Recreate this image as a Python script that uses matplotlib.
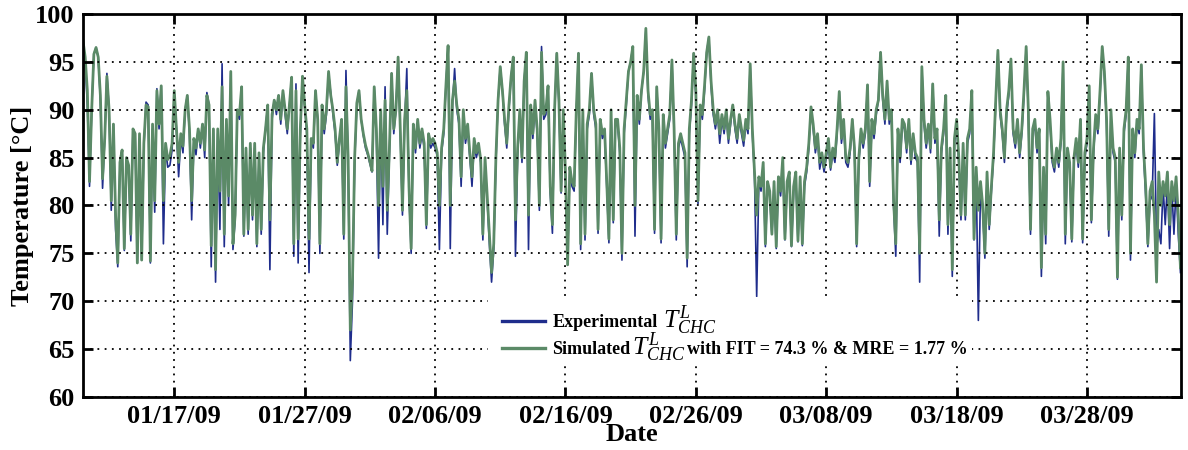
import numpy as np
import pandas as pd
import matplotlib
matplotlib.use("Agg")
import matplotlib.pyplot as plt
from matplotlib.lines import Line2D
from matplotlib.patches import Rectangle

# ---------------- data (one row per day, 4-hourly) ----------------
start_date = "2009-01-10 00:00"
sample_hours = 4
x_end = "2009-04-04 05:00"

experimental = [
    97.2, 95.0, 90.5, 82.0, 90.0, 95.8,
    96.5, 95.5, 91.0, 81.8, 87.0, 93.8,
    90.0, 79.5, 88.5, 77.5, 73.6, 84.2,
    85.8, 75.3, 84.5, 83.8, 76.3, 88.0,
    87.2, 74.0, 87.0, 74.3, 86.0, 90.8,
    90.5, 74.0, 88.0, 79.3, 92.2, 88.0,
    92.5, 76.0, 86.0, 84.0, 84.2, 85.8,
    91.8, 88.0, 83.0, 87.0, 85.5, 90.0,
    91.5, 87.5, 78.5, 86.5, 85.3, 88.0,
    86.0, 88.5, 85.0, 91.8, 90.5, 73.6,
    88.0, 72.0, 87.5, 77.5, 94.8, 75.7,
    88.5, 80.0, 93.8, 75.4, 78.5, 89.5,
    89.0, 92.4, 76.8, 85.5, 77.0, 86.0,
    78.5, 86.0, 75.7, 85.0, 77.0, 85.5,
    88.0, 90.5, 73.3, 89.0, 91.0, 89.5,
    91.5, 88.5, 92.0, 89.5, 87.5, 90.5,
    93.4, 74.7, 92.7, 74.0, 87.5, 93.5,
    90.5, 87.5, 73.0, 86.5, 86.0, 92.0,
    89.0, 75.0, 90.0, 87.5, 89.5, 93.8,
    91.7, 89.5, 87.5, 84.2, 86.5, 88.5,
    76.5, 94.1, 84.5, 63.8, 70.0, 84.5,
    90.5, 92.0, 89.0, 87.3, 86.0, 85.3,
    84.4, 83.5, 92.4, 87.5, 74.5, 89.5,
    78.0, 92.4, 77.0, 85.5, 93.8, 87.5,
    90.0, 95.5, 87.5, 79.0, 88.5, 94.3,
    81.5, 75.0, 88.0, 85.5, 88.5, 86.0,
    87.5, 86.0, 77.6, 87.0, 86.0, 86.5,
    86.0, 85.2, 75.4, 85.5, 87.5, 92.5,
    96.7, 75.5, 90.5, 94.3, 90.0, 88.5,
    82.0, 89.5, 86.5, 88.0, 85.0, 82.0,
    86.5, 85.0, 86.0, 84.5, 76.4, 84.5,
    80.5, 76.0, 72.0, 75.4, 84.5, 91.0,
    94.5, 92.0, 88.5, 86.0, 90.0, 93.5,
    95.5, 74.7, 85.4, 89.5, 84.5, 93.0,
    96.0, 75.4, 90.0, 87.0, 90.5, 87.5,
    79.5, 96.6, 89.0, 89.5, 92.0, 81.3,
    77.1, 89.5, 95.9, 90.5, 81.3, 89.5,
    83.0, 74.5, 83.5, 82.0, 81.5, 89.5,
    95.9, 75.4, 89.5, 76.4, 88.0, 89.5,
    93.8, 89.5, 88.0, 77.1, 88.5, 87.0,
    87.5, 82.0, 76.1, 89.5, 78.2, 88.5,
    88.5, 85.5, 74.3, 87.5, 90.5, 94.0,
    95.0, 96.6, 76.8, 91.0, 88.5, 92.0,
    94.0, 98.3, 91.5, 89.0, 89.5, 77.1,
    92.4, 87.5, 76.1, 89.0, 86.0, 87.5,
    89.0, 95.2, 87.5, 76.4, 86.0, 87.0,
    86.0, 85.0, 73.6, 87.5, 90.5, 95.9,
    91.5, 80.2, 90.0, 89.0, 92.0, 96.0,
    97.6, 92.5, 89.5, 88.0, 89.5, 86.5,
    89.0, 87.5, 89.5, 86.5, 88.5, 90.5,
    88.0, 86.5, 89.0, 87.5, 86.2, 88.5,
    87.5, 94.8, 87.5, 83.0, 70.5, 82.5,
    81.5, 84.0, 75.7, 82.0, 81.0, 77.0,
    82.0, 75.5, 82.5, 81.0, 84.5, 76.4,
    82.0, 83.0, 75.7, 81.5, 83.0, 76.2,
    82.5, 75.8, 82.0, 83.5, 86.0, 90.3,
    88.0, 85.5, 87.0, 83.8, 85.0, 83.5,
    85.0, 86.5, 83.7, 85.5, 84.5, 87.5,
    91.9, 86.5, 88.5, 84.5, 84.0, 85.5,
    89.0, 85.5, 75.7, 84.5, 87.5, 86.0,
    87.5, 92.6, 82.0, 88.5, 87.0, 89.5,
    91.0, 96.0, 91.0, 88.5, 92.5, 88.5,
    89.5, 80.0, 74.7, 87.5, 84.5, 88.5,
    88.0, 85.5, 88.5, 84.3, 87.0, 85.0,
    84.5, 72.0, 94.5, 88.5, 86.0, 88.0,
    85.5, 92.7, 86.5, 87.5, 76.8, 85.5,
    87.5, 91.5, 77.0, 85.5, 72.6, 86.5,
    88.5, 84.5, 78.5, 86.0, 78.5, 86.5,
    87.5, 92.0, 76.4, 83.5, 68.0, 82.0,
    79.5, 74.5, 83.0, 77.5, 81.5, 85.0,
    90.5, 96.2, 89.5, 87.5, 84.5, 89.5,
    91.5, 95.3, 87.5, 86.0, 88.5, 85.0,
    87.5, 91.5, 96.6, 89.5, 77.0, 87.5,
    88.5, 85.5, 87.5, 72.6, 83.5, 76.0,
    91.9, 88.5, 84.5, 83.5, 85.5, 84.0,
    86.5, 95.0, 76.0, 85.5, 84.0, 76.2,
    84.5, 86.5, 84.0, 89.0, 76.1, 85.0,
    86.5, 92.5, 78.2, 85.5, 89.0, 87.5,
    91.5, 96.6, 93.5, 88.5, 76.8, 89.5,
    85.5, 84.5, 72.3, 85.5, 78.5, 87.5,
    89.5, 95.5, 74.3, 87.5, 85.0, 88.5,
    87.5, 94.7, 85.5, 81.0, 75.7, 80.5,
    81.0, 89.6, 75.5, 77.5, 76.0, 82.0,
    78.0, 82.5, 75.5, 82.0, 77.0, 82.0,
    77.0, 73.0,
]

simulated = [
    97.2, 95.5, 92.0, 82.5, 90.0, 95.8,
    96.5, 95.5, 91.5, 82.8, 87.0, 93.5,
    90.0, 80.5, 88.5, 79.0, 74.0, 84.5,
    85.8, 75.5, 85.0, 84.2, 77.0, 88.0,
    87.5, 74.0, 87.5, 74.3, 86.5, 90.5,
    90.3, 74.2, 88.5, 80.5, 92.0, 88.5,
    92.5, 80.5, 86.5, 84.8, 85.2, 86.5,
    92.0, 88.0, 84.5, 87.5, 86.2, 90.0,
    91.5, 88.0, 80.5, 87.0, 86.0, 88.0,
    86.5, 88.5, 85.8, 91.5, 90.5, 75.8,
    88.0, 73.3, 88.0, 81.5, 92.4, 77.0,
    89.0, 81.0, 94.0, 76.0, 79.0, 90.0,
    89.5, 92.4, 77.0, 86.0, 77.5, 86.5,
    79.0, 86.5, 76.0, 85.5, 77.5, 86.0,
    88.0, 90.5, 78.5, 89.5, 91.0, 90.0,
    91.5, 89.0, 92.0, 90.0, 88.0, 90.5,
    93.4, 76.0, 92.0, 76.5, 88.0, 93.5,
    90.5, 88.0, 76.5, 87.0, 86.5, 92.0,
    89.0, 76.0, 90.5, 88.0, 90.0, 94.0,
    91.5, 90.0, 88.0, 84.5, 87.0, 89.0,
    77.0, 92.4, 85.0, 67.0, 72.0, 85.0,
    90.7, 92.0, 89.0, 87.5, 86.3, 85.5,
    84.6, 83.6, 92.4, 88.0, 80.0, 90.0,
    82.0, 91.0, 79.5, 86.0, 93.8, 88.0,
    90.0, 95.5, 88.0, 79.5, 89.0, 92.0,
    82.0, 75.5, 88.5, 86.0, 89.0, 86.5,
    88.0, 86.5, 78.0, 87.5, 86.5, 87.0,
    86.5, 85.5, 80.0, 86.0, 88.0, 92.5,
    96.7, 80.0, 91.0, 93.0, 90.5, 89.0,
    83.0, 90.0, 87.0, 88.5, 85.5, 83.0,
    87.0, 85.5, 86.5, 84.8, 77.0, 85.0,
    81.0, 77.0, 73.0, 76.0, 85.0, 91.0,
    94.5, 92.0, 89.0, 86.5, 90.5, 93.5,
    95.5, 78.5, 86.0, 90.0, 85.0, 93.0,
    96.0, 79.0, 90.5, 87.5, 91.0, 88.0,
    80.0, 96.0, 89.5, 90.0, 92.5, 82.0,
    78.0, 90.0, 95.9, 91.0, 81.5, 90.0,
    83.5, 73.8, 84.0, 82.5, 82.0, 90.0,
    95.9, 76.0, 90.0, 77.0, 88.5, 90.0,
    93.8, 90.0, 88.5, 77.5, 89.0, 87.5,
    88.0, 82.5, 76.5, 90.0, 78.5, 89.0,
    89.0, 86.0, 75.0, 88.0, 91.0, 94.0,
    95.0, 96.6, 80.0, 91.5, 89.0, 92.0,
    94.0, 98.5, 92.0, 89.5, 90.0, 77.5,
    92.4, 88.0, 76.5, 89.5, 86.5, 88.0,
    89.5, 95.2, 88.0, 77.0, 86.5, 87.5,
    86.5, 85.5, 74.5, 88.0, 91.0, 95.9,
    92.0, 80.5, 90.5, 89.5, 92.5, 96.0,
    97.6, 93.0, 90.0, 88.5, 90.0, 87.5,
    89.5, 88.0, 90.0, 87.0, 89.0, 90.5,
    88.5, 87.0, 89.5, 88.0, 86.8, 89.0,
    88.0, 94.8, 88.0, 83.5, 79.0, 83.0,
    82.0, 84.5, 76.0, 82.5, 81.5, 77.0,
    82.5, 75.7, 83.0, 81.5, 85.0, 76.5,
    82.5, 83.5, 75.8, 82.0, 83.5, 76.3,
    83.0, 76.0, 82.5, 84.0, 86.5, 90.3,
    88.5, 86.0, 87.5, 84.5, 85.5, 84.0,
    85.5, 87.0, 84.0, 86.0, 85.0, 88.0,
    91.9, 87.0, 89.0, 85.0, 84.5, 86.0,
    89.0, 86.0, 76.0, 85.0, 88.0, 86.5,
    88.0, 92.6, 82.5, 89.0, 87.5, 90.0,
    91.0, 96.0, 91.5, 89.0, 93.0, 89.0,
    90.0, 80.5, 76.0, 88.0, 85.0, 89.0,
    88.5, 86.0, 89.0, 84.8, 87.5, 85.5,
    85.0, 75.0, 94.5, 89.0, 86.5, 88.5,
    86.0, 92.7, 87.0, 88.0, 78.5, 86.0,
    88.0, 91.5, 78.0, 86.0, 73.3, 87.0,
    89.0, 85.0, 79.0, 86.5, 79.0, 87.0,
    88.0, 92.0, 76.5, 84.0, 79.5, 82.5,
    80.0, 75.0, 83.5, 78.0, 82.0, 85.5,
    91.0, 96.2, 90.0, 88.0, 85.0, 90.0,
    92.0, 95.3, 88.0, 86.5, 89.0, 85.5,
    88.0, 92.0, 96.6, 90.0, 77.5, 88.0,
    89.0, 86.0, 88.0, 73.5, 84.0, 77.0,
    91.9, 89.0, 85.0, 84.0, 86.0, 84.5,
    87.0, 95.0, 77.0, 86.0, 84.5, 76.5,
    85.0, 87.0, 84.5, 89.0, 76.5, 85.5,
    87.0, 92.5, 78.5, 86.0, 89.5, 88.0,
    92.0, 96.6, 94.0, 89.0, 77.5, 90.0,
    86.0, 85.0, 72.5, 86.0, 79.0, 88.0,
    90.0, 95.5, 75.0, 88.0, 85.5, 89.0,
    88.0, 94.7, 86.0, 82.0, 76.0, 81.5,
    82.5, 79.0, 72.0, 83.5, 80.0, 82.5,
    81.0, 83.5, 78.0, 82.5, 80.5, 83.0,
    79.0, 73.5,
]

xtick_labels = ["01/17/09", "01/27/09", "02/06/09", "02/16/09",
                "02/26/09", "03/08/09", "03/18/09", "03/28/09"]
ytick_values = [60, 65, 70, 75, 80, 85, 90, 95, 100]
legend_exp = "Experimental"
legend_sim = "Simulated"
legend_math = r"$T^{L}_{CHC}$"
legend_tail = "with FIT = 74.3 % & MRE = 1.77 %"

# ---------------- style ----------------
plt.rcParams["font.family"] = ["Liberation Serif", "DejaVu Serif"]
plt.rcParams["font.weight"] = "bold"
plt.rcParams["mathtext.fontset"] = "custom"
plt.rcParams["mathtext.it"] = "Liberation Serif:italic:normal"
plt.rcParams["mathtext.rm"] = "Liberation Serif:normal"
plt.rcParams["mathtext.bf"] = "Liberation Serif:bold"

blue = "#1F2D8C"
green = "#5B8A67"

t = pd.Timestamp(start_date) + pd.to_timedelta(np.arange(len(simulated)) * sample_hours, unit="h")

fig = plt.figure(figsize=(11.88, 4.5), dpi=100)
ax = fig.add_axes([83 / 1188, 1 - 397 / 450, (1181 - 83) / 1188, (397 - 14) / 450])

ax.plot(t, experimental, color=blue, lw=1.2, zorder=1.2)
ax.plot(t, simulated, color=green, lw=2.0, zorder=1.4)

ax.set_xlim(pd.Timestamp(start_date), pd.Timestamp(x_end))
ax.set_ylim(60, 100)
ax.set_yticks(ytick_values)
ax.set_xticks(pd.to_datetime(xtick_labels, format="%m/%d/%y"))
ax.set_xticklabels(xtick_labels)

ax.grid(True, color="black", linestyle=(0, (1, 3)), linewidth=1.3)
ax.set_axisbelow(False)

ax.tick_params(direction="in", length=7, width=2, top=True, right=True,
               labelsize=19, pad=6)
for s in ax.spines.values():
    s.set_linewidth(2)
    s.set_zorder(8)

ax.set_ylabel("Temperature [°C]", fontsize=19, fontweight="bold", labelpad=1)
ax.set_xlabel("Date", fontsize=19, fontweight="bold", labelpad=-4)

# legend background (white, no border)
ax.add_patch(Rectangle((0.369, 0.0836), 0.441, 0.177, transform=ax.transAxes,
                       facecolor="white", edgecolor="none", zorder=4))

h1 = Line2D([], [], color=blue, lw=2.4)
h2 = Line2D([], [], color=green, lw=2.4)
leg = ax.legend([h1, h2], [legend_exp, legend_sim], loc="upper left",
                bbox_to_anchor=(0.3816, 0.216), frameon=False, fontsize=13,
                handlelength=2.4, handletextpad=0.4, labelspacing=0.55,
                borderpad=0, borderaxespad=0)
leg.set_zorder(6)
texts = leg.get_texts()

m1 = ax.annotate(legend_math, xy=(1, 0.5), xycoords=texts[0], xytext=(4, 2),
                 textcoords="offset points", va="center", ha="left",
                 fontsize=18.5, fontweight="normal", zorder=7, annotation_clip=False)
m2 = ax.annotate(legend_math, xy=(1, 0.5), xycoords=texts[1], xytext=(1, 2),
                 textcoords="offset points", va="center", ha="left",
                 fontsize=18.5, fontweight="normal", zorder=7, annotation_clip=False)
tail = ax.annotate(legend_tail, xy=(1, 0.5), xycoords=(m2, texts[1]), xytext=(1, 0),
                   textcoords="offset points", va="center", ha="left",
                   fontsize=13, fontweight="bold", zorder=7, annotation_clip=False)

fig.canvas.draw()
fig.savefig("out.png", dpi=100)
